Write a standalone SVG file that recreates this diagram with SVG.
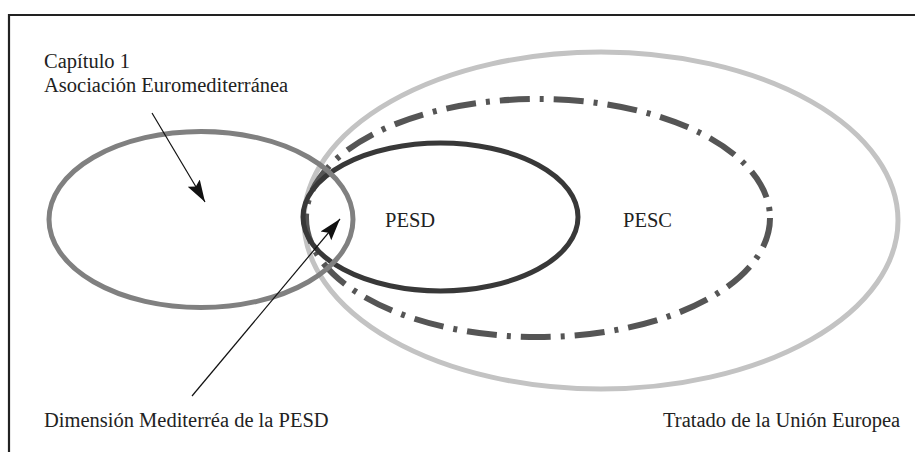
<svg xmlns="http://www.w3.org/2000/svg" width="915" height="452" viewBox="0 0 915 452">
  <defs>
    <style>
      .lbl { font-family: 'Liberation Serif', 'DejaVu Serif', serif; font-size: 20.5px; fill: #222; }
      .ell { fill: none; }
      .arrow { stroke: #111; stroke-width: 1.2; fill: none; marker-end: url(#ah); }
    </style>
    <marker id="ah" markerUnits="userSpaceOnUse" markerWidth="24" markerHeight="16" viewBox="0 0 24 16" refX="22" refY="8" orient="auto">
      <path d="M0,1 L22,8 L0,15 L4,8 Z" fill="#111"/>
    </marker>
  </defs>
  <rect width="915" height="452" fill="#fff"/>
  <path d="M9,460 L9,15 L920,15" fill="none" stroke="#222" stroke-width="2.2"/>

  <g id="tratado">
    <ellipse class="ell" cx="601" cy="220.5" rx="297" ry="168.5" stroke="#c3c3c3" stroke-width="5"/>
  </g>
  <g id="pesc">
    <ellipse class="ell" cx="538" cy="218" rx="232" ry="119" stroke="#555" stroke-width="6" stroke-dasharray="30 10 4 10"/>
  </g>
  <g id="pesd">
    <ellipse class="ell" cx="440.5" cy="217" rx="137.5" ry="74" stroke="#383838" stroke-width="5"/>
  </g>
  <g id="asociacion">
    <ellipse class="ell" cx="201" cy="219.5" rx="152" ry="88" stroke="#808080" stroke-width="5"/>
  </g>

  <g id="connectors">
    <line class="arrow" x1="152" y1="113" x2="205" y2="202"/>
    <line class="arrow" x1="192" y1="396" x2="340" y2="219"/>
  </g>

  <g id="labels">
    <text class="lbl" x="44" y="68">Capítulo 1</text>
    <text class="lbl" x="44" y="92">Asociación Euromediterránea</text>
    <text class="lbl" x="385" y="227">PESD</text>
    <text class="lbl" x="623" y="227">PESC</text>
    <text class="lbl" x="44" y="427">Dimensión Mediterréa de la PESD</text>
    <text class="lbl" x="663" y="427">Tratado de la Unión Europea</text>
  </g>
</svg>
